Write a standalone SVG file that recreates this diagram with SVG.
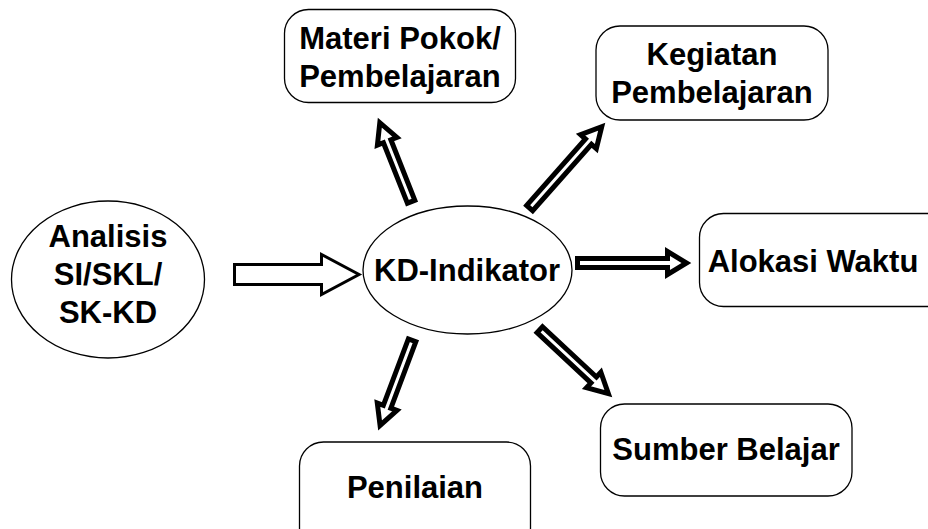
<svg xmlns="http://www.w3.org/2000/svg" width="928" height="529" viewBox="0 0 928 529">
<style>
.box{fill:#fff;stroke:#000;stroke-width:1.3}
.lbl{font-family:"Liberation Sans",Arial,sans-serif;font-weight:bold;font-size:31px;fill:#000;text-anchor:middle}
.thick{fill:#fff;stroke:#000;stroke-width:5;stroke-linejoin:miter;stroke-miterlimit:10}
.open{fill:#fff;stroke:#000;stroke-width:3;stroke-linejoin:miter;stroke-miterlimit:10}
</style>
<rect width="928" height="529" fill="#fff"/>
<g id="connectors">
<polygon class="open" points="234.5,264.5 321.5,264.5 321.5,254.5 359,274.5 321.5,294.5 321.5,284.5 234.5,284.5"/>
<g transform="translate(411.1,201.7) rotate(-111.6)"><path class="thick" d="M0,-4 H65 V-10.5 L85,0 L65,10.5 V4 H0 Z"/></g>
<g transform="translate(529.7,208.1) rotate(-48.5)"><path class="thick" d="M0,-4 H88.7 V-10.5 L108.7,0 L88.7,10.5 V4 H0 Z"/></g>
<g transform="translate(577.5,263) rotate(0)"><path class="thick" d="M0,-4.5 H90 V-11.5 L109,0 L90,11.5 V4.5 H0 Z"/></g>
<g transform="translate(539.8,329.7) rotate(43)"><path class="thick" d="M0,-4 H73.7 V-10.5 L93.7,0 L73.7,10.5 V4 H0 Z"/></g>
<g transform="translate(412.1,340.3) rotate(110.6)"><path class="thick" d="M0,-4 H71 V-10.5 L91,0 L71,10.5 V4 H0 Z"/></g>
</g>
<g id="analisis">
<ellipse class="box" cx="108" cy="279.5" rx="96.5" ry="78.5"/>
<text class="lbl" x="108" y="247">Analisis</text>
<text class="lbl" x="108" y="285">SI/SKL/</text>
<text class="lbl" x="108" y="323">SK-KD</text>
</g>
<g id="kd-indikator">
<ellipse class="box" cx="467.5" cy="270" rx="104.5" ry="64"/>
<text class="lbl" x="467" y="281">KD-Indikator</text>
</g>
<g id="materi">
<rect class="box" x="284.5" y="9.5" width="231" height="93" rx="24" ry="24"/>
<text class="lbl" x="400" y="49">Materi Pokok/</text>
<text class="lbl" x="400" y="87">Pembelajaran</text>
</g>
<g id="kegiatan">
<rect class="box" x="596" y="26" width="232" height="94" rx="24" ry="24"/>
<text class="lbl" x="712" y="65">Kegiatan</text>
<text class="lbl" x="712" y="103">Pembelajaran</text>
</g>
<g id="alokasi">
<rect class="box" x="699.5" y="213.5" width="252" height="93" rx="24" ry="24"/>
<text class="lbl" x="813" y="272">Alokasi Waktu</text>
</g>
<g id="sumber">
<rect class="box" x="600.5" y="404" width="251.5" height="92" rx="24" ry="24"/>
<text class="lbl" x="726" y="460">Sumber Belajar</text>
</g>
<g id="penilaian">
<rect class="box" x="299.5" y="442" width="231" height="110" rx="24" ry="24"/>
<text class="lbl" x="415" y="498">Penilaian</text>
</g>
</svg>
